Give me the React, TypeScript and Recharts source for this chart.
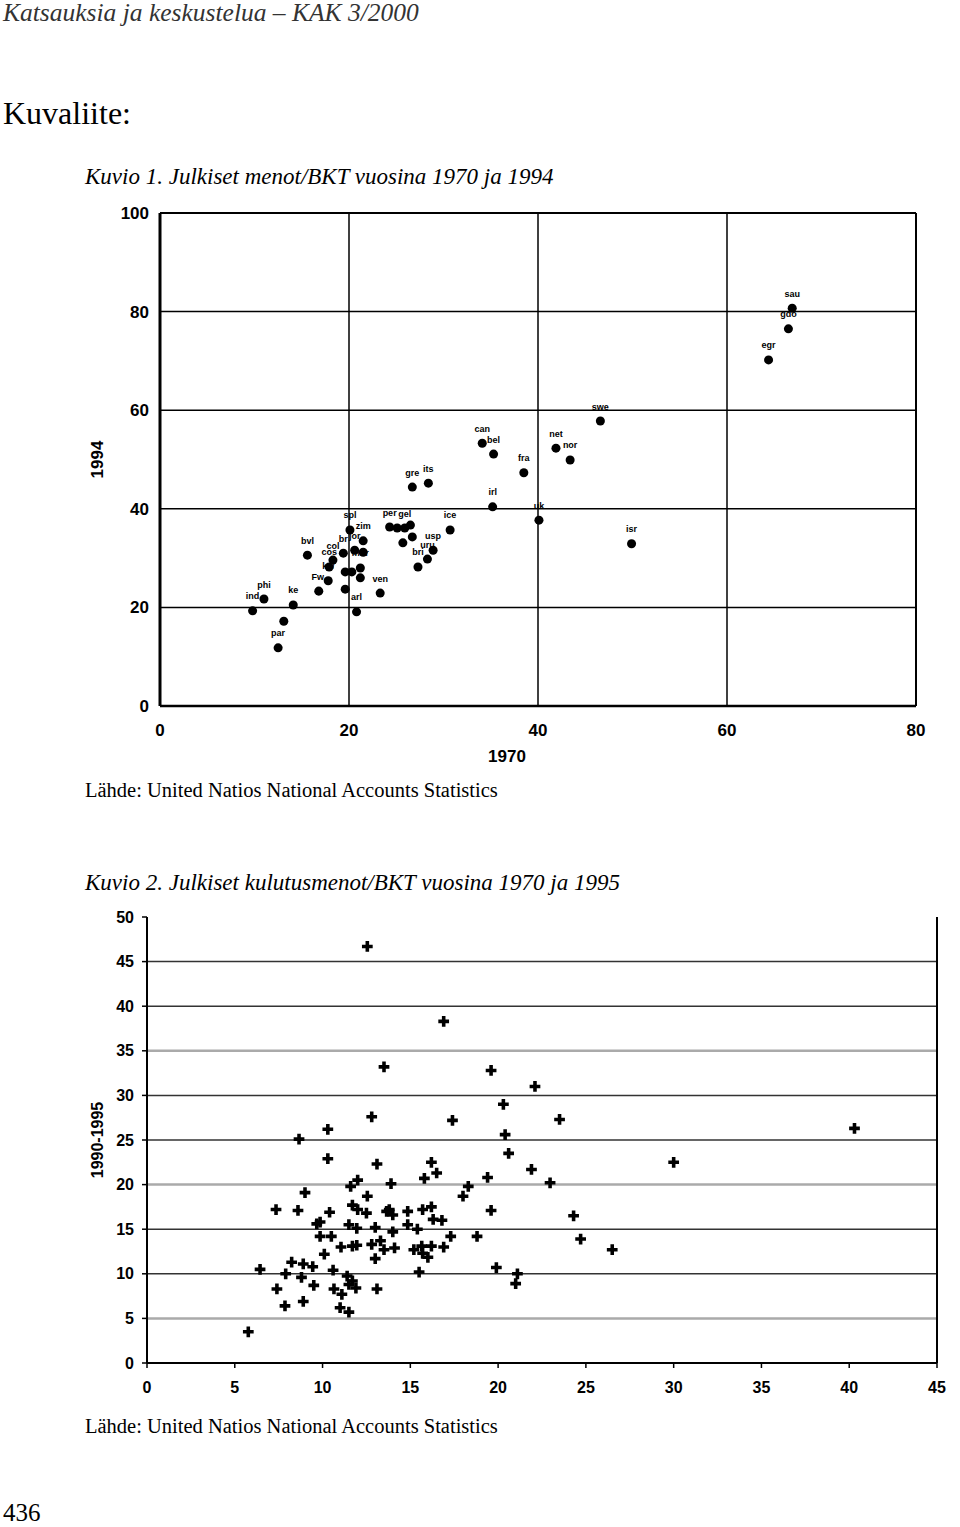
import React from 'react';
import {
  ScatterChart, Scatter, XAxis, YAxis, ZAxis, CartesianGrid,
  ReferenceLine, LabelList,
} from 'recharts';

// Kuvio 1: public spending / GDP, 1970 vs 1994
const names1 = [
  'ind', 'phi', 'ke', '', 'par', 'Fw.', 'kw', 'bvl', 'col', 'cos', 'br',
  'jor', 'zim', '', 'spl', '', '', 'mor', '', '', 'ven', 'arl',
  'gre', 'its', 'per', '', 'gel', '', '', '', 'usp', 'uru', 'bri', 'ice',
  'can', 'bel', 'fra', 'irl', 'uk', 'net', 'nor', 'swe', 'isr', 'sau', 'gdo', 'egr',
];
const x1970 = [
  9.8, 11.0, 14.1, 13.1, 12.5, 16.8, 17.8, 15.6, 18.3, 17.9, 19.4,
  20.6, 21.5, 21.5, 20.1, 19.6, 20.3, 21.2, 21.2, 19.6, 23.3, 20.8,
  26.7, 28.4, 24.3, 25.1, 25.9, 26.5, 26.7, 25.7, 28.9, 28.3, 27.3, 30.7,
  34.1, 35.3, 38.5, 35.2, 40.1, 41.9, 43.4, 46.6, 49.9, 66.9, 66.5, 64.4,
];
const y1994 = [
  19.3, 21.7, 20.5, 17.2, 11.8, 23.3, 25.4, 30.6, 29.6, 28.2, 31.0,
  31.6, 33.5, 31.2, 35.7, 27.2, 27.2, 28.0, 26.0, 23.7, 22.9, 19.1,
  44.4, 45.2, 36.3, 36.1, 36.1, 36.7, 34.3, 33.1, 31.6, 29.8, 28.2, 35.7,
  53.3, 51.1, 47.3, 40.4, 37.7, 52.3, 49.9, 57.8, 32.9, 80.7, 76.5, 70.2,
];
const ticksX1 = [0, 20, 40, 60, 80];
const ticksY1 = [0, 20, 40, 60, 80, 100];

// Kuvio 2: public consumption / GDP, 1970 vs 1990-1995
const x1970b = [
  12.55, 16.9, 13.5, 19.6, 22.1, 20.3, 12.8, 17.4, 10.3, 8.66, 20.4, 20.6,
  10.3, 13.1, 16.2, 16.5, 21.9, 12.0, 11.6, 13.9, 15.8, 19.4, 18.3, 18.0,
  9.0, 12.55, 7.35, 8.6, 10.4, 11.7, 12.0, 12.5, 13.65, 13.8, 14.0, 14.85,
  15.7, 16.2, 16.3, 16.8, 19.6, 9.86, 9.67, 11.5, 11.95, 13.0, 14.85, 15.4,
  14.0, 9.86, 10.5, 17.3, 18.8, 11.05, 11.7, 11.95, 12.8, 13.3, 13.5, 14.1,
  15.2, 15.65, 16.2, 16.9, 15.7, 16.0, 13.0, 10.1, 6.44, 8.24, 8.9, 9.44,
  7.9, 8.8, 10.6, 11.4, 11.7, 11.9, 11.5, 15.5, 7.4, 9.5, 10.65, 11.1,
  13.1, 7.86, 8.9, 11.0, 11.5, 5.77, 19.9, 21.1, 21.0,
  23.5, 40.3, 30.0, 22.96, 24.3, 24.7, 26.5,
];
const y1990 = [
  46.7, 38.3, 33.2, 32.8, 31.0, 29.0, 27.6, 27.2, 26.2, 25.1, 25.6, 23.5,
  22.9, 22.3, 22.5, 21.3, 21.7, 20.5, 19.8, 20.1, 20.7, 20.8, 19.8, 18.7,
  19.1, 18.7, 17.2, 17.1, 16.9, 17.7, 17.2, 16.8, 17.0, 17.2, 16.6, 17.0,
  17.2, 17.5, 16.1, 16.0, 17.1, 15.8, 15.6, 15.5, 15.1, 15.2, 15.5, 15.0,
  14.7, 14.2, 14.2, 14.2, 14.2, 13.0, 13.1, 13.2, 13.3, 13.7, 12.7, 12.9,
  12.7, 13.1, 13.1, 13.0, 12.3, 11.85, 11.7, 12.2, 10.5, 11.3, 11.1, 10.8,
  10.0, 9.6, 10.4, 9.75, 9.2, 8.4, 8.8, 10.2, 8.3, 8.7, 8.3, 7.7,
  8.3, 6.4, 6.9, 6.2, 5.7, 3.5, 10.7, 10.0, 8.9,
  27.3, 26.3, 22.5, 20.2, 16.5, 13.9, 12.7,
];
const ticksX2 = [0, 5, 10, 15, 20, 25, 30, 35, 40, 45];
const ticksY2 = [0, 5, 10, 15, 20, 25, 30, 35, 40, 45, 50];
const grid2 = [5, 10, 15, 20, 25, 30, 35, 40, 45];
const fadedGrid2 = [5, 20, 35];

const data1 = names1.map((name, i) => ({ name, x: x1970[i], y: y1994[i] }));
const data2 = x1970b.map((x, i) => ({ x, y: y1990[i] }));

const sans = 'Arial, "Liberation Sans", sans-serif';
const serif = '"Liberation Serif", "Times New Roman", serif';

const tickStyle = { fill: '#000', fontSize: 17, fontWeight: 'bold', fontFamily: sans };

const vTitle = (text: string, x: number, size: number) => (props: any) => {
  const vb = props.viewBox || {};
  const cy = vb.y + vb.height / 2;
  return (
    <text x={x} y={cy} transform={`rotate(-90 ${x} ${cy})`} textAnchor="middle"
      dominantBaseline="central" fontSize={size} fontWeight="bold" fontFamily={sans} fill="#000">
      {text}
    </text>
  );
};

const hTitle = (text: string, x: number, y: number, size: number) => () => (
  <text x={x} y={y} textAnchor="middle" dominantBaseline="central"
    fontSize={size} fontWeight="bold" fontFamily={sans} fill="#000">
    {text}
  </text>
);

function Txt({ top, size, italic, color, children }: any) {
  return (
    <div style={{
      position: 'absolute', left: 3, top, fontSize: size, lineHeight: 1,
      fontFamily: serif, fontStyle: italic ? 'italic' : 'normal',
      color: color || '#000', whiteSpace: 'nowrap',
    }}>
      {children}
    </div>
  );
}

function Chart1() {
  return (
    <div style={{ position: 'absolute', left: 0, top: 190 }}>
      <ScatterChart width={960} height={600} margin={{ top: 23, right: 44, bottom: 24, left: 70 }}>
        <CartesianGrid stroke="#000" strokeWidth={1.5} />
        <XAxis type="number" dataKey="x" domain={[0, 80]} ticks={ticksX1} tickLine={false}
          axisLine={{ stroke: '#000', strokeWidth: 2.5 }} height={60} tickMargin={12}
          tick={tickStyle} label={{ content: hTitle('1970', 507, 566, 17) }} />
        <YAxis type="number" dataKey="y" domain={[0, 100]} ticks={ticksY1} tickLine={false}
          axisLine={{ stroke: '#000', strokeWidth: 3 }} width={90} tickMargin={5}
          tick={tickStyle} label={{ content: vTitle('1994', 97, 17) }} />
        <ZAxis range={[50, 50]} />
        <ReferenceLine x={80} stroke="#000" strokeWidth={2} />
        <ReferenceLine y={100} stroke="#000" strokeWidth={2} />
        <Scatter data={data1} fill="#000" shape="circle" isAnimationActive={false}>
          <LabelList dataKey="name" position="top" offset={7} fill="#000"
            fontSize={9} fontWeight="bold" fontFamily={sans} />
        </Scatter>
      </ScatterChart>
    </div>
  );
}

function Chart2() {
  return (
    <div style={{ position: 'absolute', left: 0, top: 900 }}>
      <ScatterChart width={960} height={510} margin={{ top: 17, right: 23, bottom: 7, left: 60 }}>
        {grid2.map((v) => (
          <ReferenceLine key={v} y={v} stroke={fadedGrid2.includes(v) ? '#aaa' : '#333'}
            strokeWidth={fadedGrid2.includes(v) ? 2.5 : 1.5} />
        ))}
        <XAxis type="number" dataKey="x" domain={[0, 45]} ticks={ticksX2} tickSize={5}
          tickLine={{ stroke: '#000', strokeWidth: 1.5 }} axisLine={{ stroke: '#000', strokeWidth: 2 }}
          height={40} tickMargin={14} tick={{ ...tickStyle, fontSize: 16 }} />
        <YAxis type="number" dataKey="y" domain={[0, 50]} ticks={ticksY2} tickSize={5}
          tickLine={{ stroke: '#000', strokeWidth: 1.5 }} axisLine={{ stroke: '#000', strokeWidth: 2 }}
          width={87} tickMargin={8} tick={{ ...tickStyle, fontSize: 16 }}
          label={{ content: vTitle('1990-1995', 97, 16) }} />
        <ZAxis range={[100, 100]} />
        <ReferenceLine x={45} stroke="#000" strokeWidth={2} />
        <Scatter data={data2} fill="#000" shape="cross" isAnimationActive={false} />
      </ScatterChart>
    </div>
  );
}

export default function App() {
  return (
    <div style={{ position: 'absolute', left: 0, top: 0, width: 960, height: 1527, background: '#fff' }}>
      <Txt top={0} size={25.5} italic color="#333">Katsauksia ja keskustelua – KAK 3/2000</Txt>
      <Txt top={97} size={32}>Kuvaliite:</Txt>
      <div style={{ position: 'absolute', left: 82, top: 0 }}>
        <Txt top={165} size={23} italic>Kuvio 1. Julkiset menot/BKT vuosina 1970 ja 1994</Txt>
        <Txt top={780} size={20.5}>Lähde: United Natios National Accounts Statistics</Txt>
        <Txt top={871} size={23} italic>Kuvio 2. Julkiset kulutusmenot/BKT vuosina 1970 ja 1995</Txt>
        <Txt top={1416} size={20.5}>Lähde: United Natios National Accounts Statistics</Txt>
      </div>
      <Txt top={1500} size={25}>436</Txt>
      <Chart1 />
      <Chart2 />
    </div>
  );
}
